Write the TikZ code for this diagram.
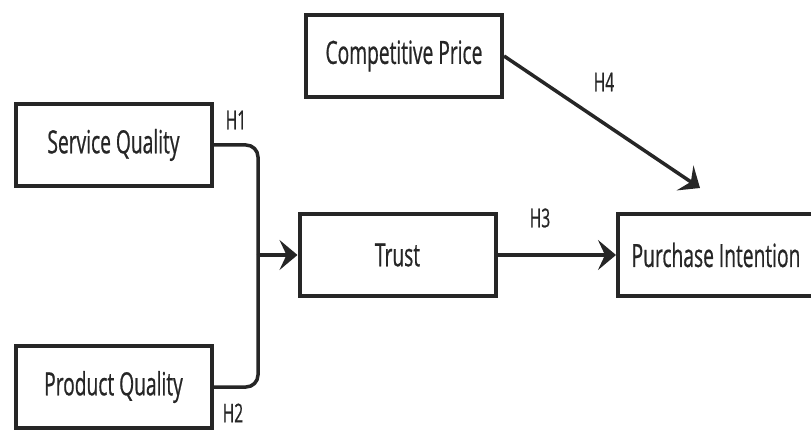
\documentclass[tikz,border=0pt]{standalone}
\usepackage{fontspec}
\setmainfont[FakeStretch=0.6,FakeBold=0.6]{Open Sans}
\usetikzlibrary{arrows.meta}
\begin{document}
\begin{tikzpicture}[x=1pt,y=-1pt,
  box/.style={draw=black!85,line width=4pt,minimum width=196pt,minimum height=82pt,inner sep=0pt,font=\fontsize{32}{36}\selectfont,text=black!85},
  conn/.style={draw=black!85,line width=3.5pt,rounded corners=12pt},
  tip/.style={-{Stealth[length=18pt,width=30pt,inset=7pt]}},
  lbl/.style={font=\fontsize{26}{30}\selectfont,text=black!85}]
\useasboundingbox (0,0) rectangle (811,430);
\node[box] (cp) at (404,56) {Competitive Price};
\node[box] (sq) at (113.5,145) {Service Quality};
\node[box] (tr) at (397.5,255) {Trust};
\node[box] (pi) at (716,255) {Purchase Intention};
\node[box] (pq) at (113.5,387) {Product Quality};
\coordinate (j) at (258,255);
\coordinate (h4end) at (700,188);
\draw[conn] (sq.east) -| (j);
\draw[conn] (pq.east) -| (j);
\draw[conn,tip,rounded corners=0pt] (j) -- (tr.west);
\draw[conn,tip] (tr.east) -- (pi.west);
\draw[conn,tip] (cp.east) -- (h4end);
\node[lbl] (h1) at (236,120) {H1};
\node[lbl] (h2) at (233,413) {H2};
\node[lbl] (h3) at (540,218) {H3};
\node[lbl] (h4) at (604,82) {H4};
\end{tikzpicture}
\end{document}
